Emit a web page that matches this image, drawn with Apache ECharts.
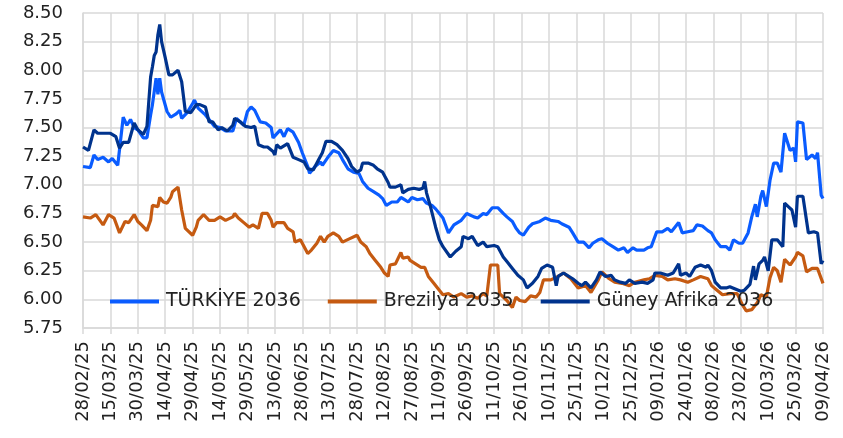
<!DOCTYPE html>
<html>
<head>
<meta charset="utf-8">
<script src="https://cdn.jsdelivr.net/npm/echarts@6/dist/echarts.min.js"></script>
<style>
html,body{margin:0;padding:0;background:#fff;}
#chart{width:843px;height:438px;}
</style>
</head>
<body>
<div id="chart"></div>
<script>
// Tick labels (every 15 days starting 28/02/25)
const tickLabels = ['28/02/25','15/03/25','30/03/25','14/04/25','29/04/25','14/05/25','29/05/25','13/06/25','28/06/25','13/07/25','28/07/25','12/08/25','27/08/25','11/09/25','26/09/25','11/10/25','26/10/25','10/11/25','25/11/25','10/12/25','25/12/25','09/01/26','24/01/26','08/02/26','23/02/26','10/03/26','25/03/26','09/04/26'];
const seriesNames = ['TÜRKİYE 2036','Brezilya 2035','Güney Afrika 2036'];

// [day offset from 28/02/25, yield]
const turkiye = [[0,7.16],[4,7.15],[6,7.26],[8,7.22],[11,7.24],[14,7.20],[16,7.23],[19,7.17],[22,7.59],[24,7.52],[26,7.57],[28,7.50],[30,7.48],[33,7.41],[35,7.41],[37,7.61],[38,7.70],[40,7.93],[41,7.79],[42,7.93],[43,7.81],[46,7.64],[48,7.59],[51,7.62],[53,7.65],[54,7.58],[57,7.63],[60,7.71],[61,7.74],[63,7.67],[64,7.68],[67,7.61],[70,7.55],[72,7.51],[75,7.50],[78,7.47],[82,7.47],[84,7.58],[88,7.52],[90,7.64],[92,7.68],[94,7.65],[97,7.55],[100,7.54],[103,7.50],[104,7.41],[108,7.48],[110,7.42],[112,7.49],[115,7.46],[118,7.37],[120,7.28],[123,7.16],[124,7.10],[127,7.16],[130,7.20],[131,7.17],[134,7.24],[137,7.30],[140,7.28],[142,7.22],[145,7.14],[148,7.11],[151,7.10],[153,7.03],[156,6.97],[159,6.94],[162,6.91],[164,6.88],[166,6.82],[169,6.85],[172,6.85],[174,6.89],[176,6.87],[178,6.85],[180,6.89],[183,6.87],[186,6.88],[188,6.84],[191,6.82],[193,6.79],[194,6.78],[197,6.71],[200,6.58],[203,6.65],[207,6.69],[210,6.75],[214,6.72],[216,6.71],[219,6.75],[221,6.74],[224,6.80],[227,6.80],[230,6.75],[232,6.72],[235,6.68],[237,6.62],[239,6.58],[241,6.56],[244,6.63],[246,6.66],[250,6.68],[253,6.71],[256,6.69],[260,6.68],[262,6.66],[266,6.63],[268,6.58],[271,6.50],[274,6.50],[277,6.45],[279,6.49],[282,6.52],[284,6.53],[287,6.49],[290,6.46],[293,6.43],[296,6.45],[298,6.41],[301,6.45],[303,6.43],[307,6.43],[309,6.45],[311,6.46],[314,6.59],[317,6.59],[320,6.62],[322,6.59],[326,6.67],[328,6.58],[331,6.59],[334,6.60],[336,6.65],[339,6.64],[342,6.60],[344,6.58],[346,6.52],[349,6.46],[352,6.46],[354,6.43],[356,6.52],[359,6.49],[361,6.49],[364,6.58],[366,6.72],[368,6.83],[369,6.72],[371,6.90],[372,6.95],[374,6.81],[376,7.04],[378,7.19],[380,7.19],[382,7.11],[384,7.45],[387,7.30],[389,7.32],[390,7.20],[391,7.55],[394,7.54],[396,7.22],[399,7.26],[401,7.23],[402,7.28],[404,6.91],[405,6.88]];

const brezilya = [[0,6.72],[4,6.71],[7,6.74],[11,6.65],[14,6.74],[17,6.71],[20,6.58],[23,6.68],[25,6.67],[28,6.74],[30,6.68],[32,6.65],[35,6.60],[37,6.69],[38,6.82],[41,6.81],[42,6.89],[44,6.85],[46,6.84],[48,6.89],[49,6.94],[52,6.98],[54,6.78],[56,6.62],[60,6.56],[62,6.63],[63,6.69],[66,6.74],[69,6.69],[72,6.69],[75,6.72],[78,6.69],[82,6.72],[83,6.75],[85,6.71],[88,6.67],[91,6.63],[93,6.65],[96,6.62],[98,6.75],[101,6.75],[103,6.69],[104,6.63],[106,6.67],[110,6.67],[112,6.62],[115,6.59],[116,6.50],[119,6.52],[123,6.40],[125,6.43],[128,6.49],[130,6.55],[132,6.50],[134,6.55],[137,6.58],[140,6.55],[142,6.50],[146,6.53],[150,6.56],[152,6.50],[155,6.46],[157,6.40],[160,6.34],[163,6.28],[165,6.23],[167,6.20],[168,6.30],[171,6.31],[174,6.41],[175,6.36],[178,6.37],[179,6.34],[182,6.31],[185,6.28],[187,6.28],[189,6.20],[192,6.14],[195,6.08],[197,6.04],[200,6.05],[203,6.02],[207,6.05],[210,6.02],[213,6.03],[216,6.01],[219,6.05],[221,6.03],[223,6.30],[227,6.30],[228,6.05],[232,5.99],[235,5.93],[237,6.02],[239,5.99],[242,5.98],[245,6.03],[248,6.02],[250,6.06],[252,6.17],[256,6.17],[260,6.20],[263,6.23],[267,6.18],[271,6.10],[275,6.12],[278,6.06],[282,6.17],[284,6.24],[288,6.18],[291,6.15],[295,6.14],[299,6.12],[302,6.15],[307,6.17],[310,6.18],[313,6.21],[317,6.20],[320,6.17],[324,6.18],[327,6.17],[331,6.15],[334,6.17],[338,6.20],[342,6.18],[344,6.12],[347,6.08],[350,6.04],[354,6.05],[358,6.05],[361,5.95],[363,5.90],[366,5.91],[369,5.97],[371,6.04],[374,6.02],[376,6.19],[378,6.28],[380,6.25],[382,6.15],[384,6.35],[387,6.30],[390,6.37],[391,6.41],[394,6.38],[396,6.24],[399,6.27],[402,6.27],[405,6.14]];

const guneyAfrika = [[0,7.33],[3,7.30],[6,7.48],[8,7.45],[12,7.45],[15,7.45],[18,7.42],[20,7.32],[22,7.37],[25,7.37],[26,7.36],[28,7.54],[30,7.48],[33,7.44],[35,7.51],[37,7.94],[38,8.03],[39,8.13],[40,8.16],[41,8.31],[42,8.40],[43,8.25],[45,8.11],[47,7.96],[49,7.96],[52,8.00],[54,7.90],[56,7.64],[59,7.63],[62,7.70],[64,7.70],[67,7.68],[69,7.55],[71,7.55],[74,7.48],[76,7.50],[79,7.47],[82,7.52],[83,7.58],[86,7.55],[89,7.51],[92,7.50],[94,7.51],[96,7.35],[99,7.33],[101,7.33],[104,7.29],[105,7.26],[106,7.35],[108,7.32],[112,7.36],[115,7.24],[118,7.22],[121,7.20],[123,7.14],[126,7.13],[129,7.22],[131,7.28],[133,7.38],[136,7.38],[139,7.35],[142,7.30],[145,7.23],[147,7.16],[150,7.11],[152,7.13],[153,7.19],[156,7.19],[159,7.17],[161,7.14],[164,7.11],[167,7.02],[168,6.98],[171,6.98],[174,7.00],[175,6.93],[178,6.96],[181,6.97],[184,6.96],[186,6.97],[187,7.03],[188,6.93],[190,6.82],[193,6.63],[195,6.52],[197,6.46],[201,6.37],[204,6.42],[207,6.46],[208,6.55],[211,6.53],[213,6.55],[216,6.47],[219,6.50],[221,6.46],[225,6.47],[227,6.46],[230,6.37],[232,6.33],[235,6.27],[238,6.21],[241,6.17],[243,6.10],[246,6.14],[249,6.20],[251,6.27],[254,6.30],[257,6.28],[259,6.12],[260,6.20],[263,6.23],[265,6.21],[268,6.18],[271,6.14],[273,6.12],[275,6.15],[278,6.10],[281,6.17],[283,6.24],[286,6.20],[289,6.21],[291,6.17],[294,6.15],[297,6.14],[299,6.17],[302,6.14],[306,6.15],[309,6.14],[312,6.17],[313,6.23],[316,6.23],[320,6.21],[323,6.23],[326,6.31],[327,6.21],[330,6.23],[332,6.20],[335,6.28],[338,6.30],[341,6.28],[342,6.30],[344,6.25],[346,6.15],[349,6.10],[352,6.10],[354,6.11],[357,6.09],[360,6.07],[362,6.08],[365,6.13],[367,6.29],[368,6.17],[370,6.31],[372,6.34],[373,6.37],[375,6.25],[377,6.52],[380,6.52],[383,6.46],[384,6.84],[386,6.81],[388,6.78],[390,6.63],[391,6.90],[394,6.90],[397,6.58],[400,6.59],[402,6.58],[404,6.31],[405,6.34]];

const colors = ['#0a5cff', '#c55a11', '#00338d'];
const font = 'DejaVu Sans';

const chart = echarts.init(document.getElementById('chart'), null, {renderer: 'canvas'});
chart.setOption({
  animation: false,
  backgroundColor: '#ffffff',
  color: colors,
  grid: {left: 83, right: 20, top: 13, bottom: 110, containLabel: false},
  legend: {
    left: 105, top: 287,
    icon: 'rect', itemWidth: 49, itemHeight: 4, itemGap: 27,
    textStyle: {fontFamily: font, fontSize: 19, color: '#222', padding: [0, 0, 0, 2]},
    data: seriesNames
  },
  xAxis: {
    type: 'value', min: 0, max: 405, interval: 15,
    axisLine: {show: true, lineStyle: {color: '#d9d9d9', width: 1.5}},
    axisTick: {show: true, length: 6, lineStyle: {color: '#d9d9d9', width: 1.5}},
    splitLine: {show: true, lineStyle: {color: '#d9d9d9', width: 1.5}},
    axisLabel: {
      rotate: 90, margin: 13, fontFamily: font, fontSize: 18, color: '#222',
      formatter: v => tickLabels[Math.round(v / 15)] || ''
    }
  },
  yAxis: {
    type: 'value', min: 5.75, max: 8.5, interval: 0.25,
    axisLine: {show: true, lineStyle: {color: '#d9d9d9', width: 1.5}},
    axisTick: {show: false},
    splitLine: {show: true, lineStyle: {color: '#d9d9d9', width: 1.5}},
    axisLabel: {margin: 20, fontFamily: font, fontSize: 18, color: '#222', formatter: v => v.toFixed(2)}
  },
  series: [
    {name: seriesNames[0], type: 'line', data: turkiye, showSymbol: false, lineStyle: {width: 3.2, color: colors[0]}, itemStyle: {color: colors[0]}},
    {name: seriesNames[1], type: 'line', data: brezilya, showSymbol: false, lineStyle: {width: 3.2, color: colors[1]}, itemStyle: {color: colors[1]}},
    {name: seriesNames[2], type: 'line', data: guneyAfrika, showSymbol: false, lineStyle: {width: 3.2, color: colors[2]}, itemStyle: {color: colors[2]}}
  ]
});
</script>
</body>
</html>
